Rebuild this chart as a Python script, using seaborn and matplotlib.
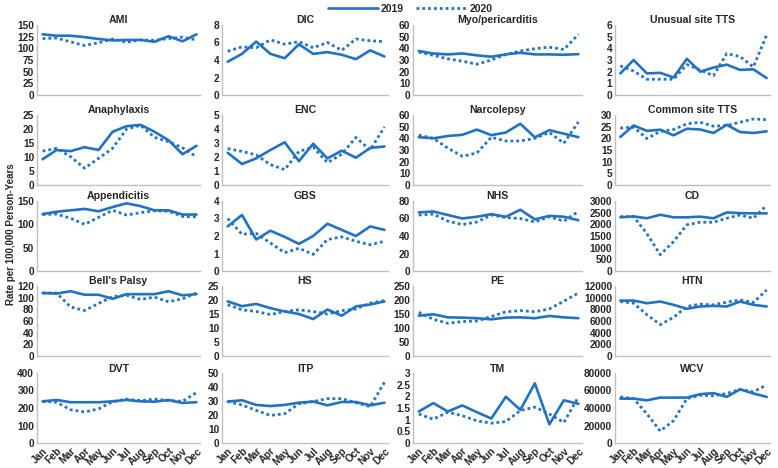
import matplotlib.pyplot as plt
import numpy as np
import pandas as pd
import seaborn as sns

sns.set_theme(style="white")
plt.rcParams["font.family"] = ["Liberation Sans", "DejaVu Sans"]

months = ["Jan", "Feb", "Mar", "Apr", "May", "Jun", "Jul", "Aug", "Sep", "Oct", "Nov", "Dec"]

# panel order (row by row) and y-axis setup
titles = ["AMI", "DIC", "Myo/pericarditis", "Unusual site TTS",
          "Anaphylaxis", "ENC", "Narcolepsy", "Common site TTS",
          "Appendicitis", "GBS", "NHS", "CD",
          "Bell's Palsy", "HS", "PE", "HTN",
          "DVT", "ITP", "TM", "WCV"]
y_max = [150, 8, 60, 6, 25, 5, 60, 30, 150, 4, 80, 3000, 120, 25, 250, 12000, 400, 50, 3, 80000]
y_step = [25, 2, 10, 1, 5, 1, 10, 5, 50, 1, 20, 500, 20, 5, 50, 2000, 100, 10, 0.5, 20000]

rate_2019 = {
    "AMI": [130, 127, 127, 124, 120, 117, 118, 118, 114, 126, 115, 130],
    "DIC": [3.8, 4.7, 6.1, 4.7, 4.2, 5.8, 4.7, 4.9, 4.6, 4.1, 5.1, 4.4],
    "Myo/pericarditis": [37.7, 35.6, 34.8, 35.6, 34, 32.8, 34.8, 36.2, 34.8, 34.8, 34.5, 35],
    "Unusual site TTS": [1.85, 3.0, 1.85, 1.9, 1.5, 3.1, 2.0, 2.35, 2.6, 2.15, 2.2, 1.45],
    "Anaphylaxis": [9.2, 12.5, 12.1, 13.5, 12.5, 19, 21, 21.5, 19, 16, 11, 14],
    "ENC": [2.3, 1.5, 1.9, 2.5, 3.05, 1.7, 2.95, 1.9, 2.45, 1.95, 2.65, 2.75],
    "Narcolepsy": [41, 40, 42, 43, 47.5, 42.7, 45, 52.5, 40.8, 47, 44, 41],
    "Common site TTS": [20.6, 25.5, 23.2, 23.7, 21.3, 24.1, 23.8, 22.3, 25.8, 22.7, 22.3, 23],
    "Appendicitis": [122, 127, 130, 133, 128, 137, 145, 139, 130, 130, 121, 121],
    "GBS": [2.55, 3.2, 1.8, 2.3, 1.95, 1.55, 2.0, 2.7, 2.35, 2.0, 2.55, 2.35],
    "NHS": [67, 68, 64, 60, 62, 65, 62, 70, 59, 63, 62, 58],
    "CD": [2300, 2340, 2260, 2410, 2300, 2300, 2330, 2260, 2510, 2480, 2470, 2470],
    "Bell's Palsy": [108, 107, 111, 105, 105, 98, 106, 106, 106, 111, 104, 106],
    "HS": [19.5, 17.8, 18.6, 17.1, 15.9, 15, 13.2, 16.6, 14.4, 17.7, 18.4, 19.5],
    "PE": [144, 149, 138, 137, 135, 131, 137, 138, 135, 143, 138, 135],
    "HTN": [9500, 9500, 9050, 9340, 8770, 8090, 8490, 8600, 8490, 9340, 8770, 8490],
    "DVT": [238, 246, 233, 233, 233, 238, 246, 238, 236, 246, 229, 233],
    "ITP": [29.6, 30.5, 27.2, 26.4, 27.2, 28.8, 29.6, 26.9, 29.3, 29.3, 26.9, 28.8],
    "TM": [1.35, 1.71, 1.35, 1.61, 1.32, 1.05, 1.98, 1.42, 2.56, 0.8, 1.83, 1.68],
    "WCV": [50700, 50700, 48800, 51900, 51900, 51900, 55800, 57000, 52700, 61300, 56600, 52700],
}

rate_2020 = {
    "AMI": [121, 122, 114, 106, 112, 120, 113, 118, 117, 121, 124, 118],
    "DIC": [5.0, 5.5, 5.4, 6.3, 5.8, 6.1, 5.4, 6.0, 5.1, 6.4, 6.2, 6.1],
    "Myo/pericarditis": [36.8, 34, 31, 29, 26.4, 30, 34.8, 37.7, 39.7, 41, 39, 52],
    "Unusual site TTS": [2.5, 2.05, 1.35, 1.35, 1.35, 2.6, 2.15, 1.65, 3.55, 3.3, 2.4, 5.15],
    "Anaphylaxis": [12.1, 13.1, 10.1, 6, 9.5, 13.1, 20, 21.3, 17, 15.5, 13.3, 10.1],
    "ENC": [2.6, 2.4, 2.15, 1.45, 1.1, 2.4, 2.7, 1.6, 2.2, 3.4, 2.5, 4.15],
    "Narcolepsy": [42.7, 40, 31.6, 24.6, 27.4, 41, 37.7, 37.7, 40, 45, 35.8, 54],
    "Common site TTS": [24.4, 24.8, 19.9, 23, 23.8, 26.2, 26.9, 25.2, 25.5, 26.9, 28.3, 28],
    "Appendicitis": [121, 122, 113, 100, 115, 130, 120, 125, 129, 128, 117, 116],
    "GBS": [3.0, 2.1, 2.15, 1.6, 1.05, 1.3, 0.95, 1.8, 1.95, 1.7, 1.5, 1.7],
    "NHS": [64, 65, 57, 53, 56, 64, 61, 60, 56, 62, 57, 68],
    "CD": [2330, 2330, 1600, 700, 1260, 1980, 2090, 2090, 2260, 2400, 2260, 2820],
    "Bell's Palsy": [108, 108, 84, 78, 90, 102, 104, 97, 101, 93, 98, 108],
    "HS": [18.3, 16.5, 15.9, 14.8, 15.9, 16.5, 15.9, 15, 16.2, 16.8, 18.9, 19.8],
    "PE": [156, 131, 117, 123, 125, 141, 158, 162, 158, 168, 196, 225],
    "HTN": [9340, 9050, 7070, 5380, 6620, 8490, 8880, 8770, 9230, 9620, 9170, 11320],
    "DVT": [238, 233, 190, 177, 195, 236, 251, 242, 251, 242, 238, 288],
    "ITP": [29.6, 27.2, 23.3, 19.7, 20.9, 28.1, 29.6, 31.7, 31.7, 28.8, 26, 43.3],
    "TM": [1.24, 1.02, 1.32, 1.17, 0.95, 0.85, 0.92, 1.39, 1.54, 1.24, 0.88, 1.98],
    "WCV": [52700, 50700, 33200, 13700, 25400, 50700, 54600, 53900, 56600, 61300, 58500, 66300],
}

blue = "#2272C3"
axis_grey = "#BFBFBF"
text_col = "#262626"

W, H = 778, 468
fig = plt.figure(figsize=(W / 100, H / 100), dpi=100)

col_left = [37, 222, 413, 615]
col_width = [163, 166, 169, 155]
row_bottom = [95, 185, 271, 356, 443]
ax_h = 70

x = np.arange(12)
for i, name in enumerate(titles):
    r, c = divmod(i, 4)
    ax = fig.add_axes([col_left[c] / W, 1 - row_bottom[r] / H, col_width[c] / W, ax_h / H])
    df = pd.DataFrame({"m": x, "y19": rate_2019[name], "y20": rate_2020[name]})
    sns.lineplot(data=df, x="m", y="y20", ax=ax, color=blue, lw=2.0,
                 linestyle=(0, (1, 1.1)))
    sns.lineplot(data=df, x="m", y="y19", ax=ax, color=blue, lw=1.9)
    ax.set_xlim(-0.4, 11.25)
    ax.set_ylim(0, y_max[i])
    ax.set_yticks(np.arange(0, y_max[i] + y_step[i] / 2, y_step[i]))
    ax.yaxis.set_major_formatter(plt.FuncFormatter(lambda v, p: f"{v:g}"))
    ax.set_xlabel("")
    ax.set_ylabel("")
    ax.set_title(name, fontsize=7.6, fontweight="bold", color=text_col, pad=1)
    for s in ["top", "right"]:
        ax.spines[s].set_visible(False)
    for s in ["left", "bottom"]:
        ax.spines[s].set_color(axis_grey)
        ax.spines[s].set_linewidth(1.0)
    ax.tick_params(axis="both", length=0, pad=2, labelsize=7.3, colors=text_col)
    for lab in ax.get_yticklabels():
        lab.set_fontweight("bold")
    if r == 4:
        ax.set_xticks(x)
        ax.set_xticklabels(months, rotation=45, ha="right", rotation_mode="anchor",
                           fontsize=7.3, fontweight="bold")
    else:
        ax.set_xticks([])

# legend
h19 = plt.Line2D([], [], color=blue, lw=1.9)
h20 = plt.Line2D([], [], color=blue, lw=2.0, linestyle=(0, (1, 1.1)))
fig.legend([h19, h20], ["2019", "2020"], loc="upper center", bbox_to_anchor=(0.527, 1.012),
           ncol=2, frameon=False, handlelength=4.8, handletextpad=0.3, columnspacing=1.2,
           prop={"size": 7.5, "weight": "bold"}, labelcolor=text_col)

fig.text(0.008, 0.5, "Rate per 100,000 Person-Years", rotation=90, va="center", ha="left",
         fontsize=7, fontweight="bold", color=text_col)

fig.savefig("out.png", dpi=100)
